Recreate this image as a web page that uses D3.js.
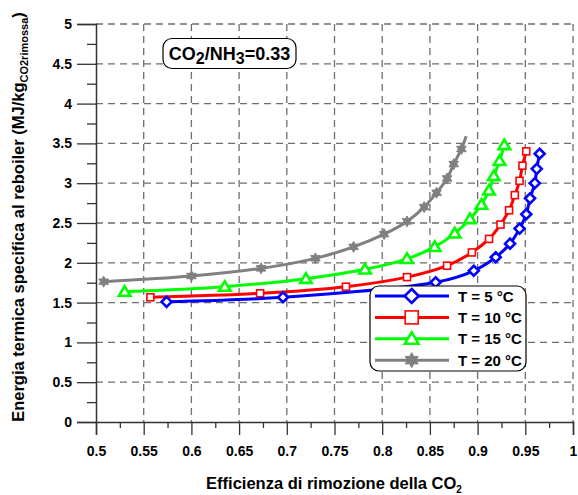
<!DOCTYPE html>
<html>
<head>
<meta charset="utf-8">
<script src="https://cdn.jsdelivr.net/npm/d3@7/dist/d3.min.js"></script>
<style>
  html, body { margin: 0; padding: 0; background: #fff; }
  text { font-family: "Liberation Sans", Arial, sans-serif; font-weight: bold; fill: #000; }
</style>
</head>
<body>
<svg id="chart" width="578" height="495"></svg>
<script>
// Removal efficiency (x) vs specific reboiler heat duty (y, MJ/kg CO2 removed)
const t5x  = [0.574, 0.696, 0.856, 0.896, 0.919, 0.934, 0.944, 0.951, 0.955, 0.960, 0.962, 0.965];
const t5y  = [1.51, 1.567, 1.755, 1.90, 2.07, 2.24, 2.43, 2.61, 2.81, 3.00, 3.18, 3.37];
const t10x = [0.557, 0.672, 0.762, 0.826, 0.868, 0.894, 0.912, 0.924, 0.933, 0.939, 0.944, 0.947, 0.951];
const t10y = [1.567, 1.617, 1.70, 1.82, 1.964, 2.13, 2.30, 2.48, 2.66, 2.85, 3.03, 3.22, 3.40];
const t15x = [0.530, 0.635, 0.720, 0.782, 0.826, 0.855, 0.876, 0.892, 0.904, 0.912, 0.917, 0.923, 0.928];
const t15y = [1.637, 1.70, 1.80, 1.918, 2.05, 2.20, 2.37, 2.55, 2.73, 2.91, 3.09, 3.28, 3.48];
const t20x = [0.508, 0.600, 0.673, 0.730, 0.770, 0.802, 0.826, 0.844, 0.857, 0.868, 0.875, 0.883, 0.888];
const t20y = [1.763, 1.834, 1.93, 2.056, 2.20, 2.36, 2.52, 2.70, 2.88, 3.06, 3.24, 3.43, 3.59];
// number of points carrying a marker (the last T=20 point is line only)
const t20markers = 12;

const seriesNames = ["T = 5 °C", "T = 10 °C", "T = 15 °C", "T = 20 °C"];
const seriesColors = ["#0000ff", "#ff0000", "#00ff00", "#808080"];

const xTicks = [0.5, 0.55, 0.6, 0.65, 0.7, 0.75, 0.8, 0.85, 0.9, 0.95, 1];
const yTicks = [0, 0.5, 1, 1.5, 2, 2.5, 3, 3.5, 4, 4.5, 5];

const series = [
  { xs: t5x,  ys: t5y,  n: t5x.length,  shape: "diamond" },
  { xs: t10x, ys: t10y, n: t10x.length, shape: "square" },
  { xs: t15x, ys: t15y, n: t15x.length, shape: "triangle" },
  { xs: t20x, ys: t20y, n: t20markers,  shape: "star" }
].map((s, i) => ({ ...s, name: seriesNames[i], color: seriesColors[i],
  pts: s.xs.map((x, j) => [x, s.ys[j]]) }));

const svg = d3.select("#chart");
const plotLeft = 96, plotRight = 573, plotTop = 24, plotBottom = 422;
const x = d3.scaleLinear().domain([0.5, 1]).range([plotLeft, plotRight]);
const y = d3.scaleLinear().domain([0, 5]).range([plotBottom, plotTop]);

// dashed grid
const grid = svg.append("g").attr("stroke", "#6e6e6e").attr("stroke-width", 1.3)
  .attr("stroke-dasharray", "7,5").attr("fill", "none");
xTicks.filter(v => v > 0.5).forEach(v => {
  grid.append("line").attr("x1", x(v)).attr("x2", x(v)).attr("y1", y(5)).attr("y2", y(0));
});
yTicks.filter(v => v > 0).forEach(v => {
  grid.append("line").attr("x1", x(0.5)).attr("x2", x(1)).attr("y1", y(v)).attr("y2", y(v));
});

// axes
const xMinor = d3.range(0, 10).map(i => 0.525 + i * 0.05);
const yMinor = d3.range(0, 10).map(i => 0.25 + i * 0.5);

svg.append("g").attr("transform", `translate(0,${plotBottom})`)
  .call(d3.axisBottom(x).tickValues(xTicks).tickFormat(d3.format("")).tickSize(13).tickPadding(11));
svg.append("g").attr("transform", `translate(0,${plotBottom})`)
  .call(d3.axisBottom(x).tickValues(xMinor).tickSize(6).tickFormat(""))
  .call(g => g.select(".domain").remove());
svg.append("g").attr("transform", `translate(${plotLeft},0)`)
  .call(d3.axisLeft(y).tickValues(yTicks).tickFormat(d3.format("")).tickSize(19).tickPadding(5));
svg.append("g").attr("transform", `translate(${plotLeft},0)`)
  .call(d3.axisLeft(y).tickValues(yMinor).tickSize(9).tickFormat(""))
  .call(g => g.select(".domain").remove());

svg.selectAll(".domain").attr("stroke", "#333").attr("stroke-width", 1.5);
svg.selectAll(".tick line").attr("stroke", "#333").attr("stroke-width", 1.3);
svg.selectAll(".tick text").style("font-size", "14px").style("font-family", "Liberation Sans, Arial, sans-serif")
  .style("font-weight", "bold").attr("fill", "#000");

// curves
const line = d3.line().x(d => x(d[0])).y(d => y(d[1])).curve(d3.curveCatmullRom.alpha(0.5));
const plot = svg.append("g");

function starPath(cx, cy, ro, ri, k) {
  const pts = [];
  for (let i = 0; i < 2 * k; i++) {
    const a = -Math.PI / 2 + i * Math.PI / k;
    const r = i % 2 ? ri : ro;
    pts.push([cx + r * Math.cos(a), cy + r * Math.sin(a)]);
  }
  return "M" + pts.map(p => p.join(",")).join("L") + "Z";
}

function marker(g, shape, color, size, cx, cy) {
  if (shape === "diamond") {
    const r = size / 2;
    g.append("path").attr("d", `M${cx},${cy - r}L${cx + r},${cy}L${cx},${cy + r}L${cx - r},${cy}Z`)
      .attr("fill", "#fff").attr("stroke", color).attr("stroke-width", 2.6);
  } else if (shape === "square") {
    g.append("rect").attr("x", cx - size / 2).attr("y", cy - size / 2).attr("width", size).attr("height", size)
      .attr("fill", "#fff").attr("stroke", color).attr("stroke-width", 1.6);
  } else if (shape === "triangle") {
    const r = size / 2;
    g.append("path").attr("d", `M${cx},${cy - r}L${cx + r * 1.05},${cy + r * 0.75}L${cx - r * 1.05},${cy + r * 0.75}Z`)
      .attr("fill", "#fff").attr("stroke", color).attr("stroke-width", 2.6);
  } else {
    g.append("path").attr("d", starPath(cx, cy, size / 2, size / 3.6, 6))
      .attr("fill", color).attr("stroke", color).attr("stroke-width", 1);
  }
}

const markerSize = { diamond: 10, square: 7, triangle: 11, star: 11 };
series.slice().reverse().forEach(s => {
  plot.append("path").datum(s.pts).attr("d", line).attr("fill", "none")
    .attr("stroke", s.color).attr("stroke-width", 3);
  s.pts.slice(0, s.n).forEach(p => marker(plot, s.shape, s.color, markerSize[s.shape], x(p[0]), y(p[1])));
});

// legend
const lg = svg.append("g");
lg.append("rect").attr("x", 370).attr("y", 286).attr("width", 156).attr("height", 85)
  .attr("rx", 9).attr("fill", "#fff").attr("stroke", "#000").attr("stroke-width", 1.2);
const legendMarker = { diamond: 14, square: 13, triangle: 13, star: 15 };
series.forEach((s, i) => {
  const cy = 296 + i * 21.4;
  lg.append("line").attr("x1", 375).attr("x2", 449).attr("y1", cy).attr("y2", cy)
    .attr("stroke", s.color).attr("stroke-width", 3);
  marker(lg, s.shape, s.color, legendMarker[s.shape], 411.7, cy);
  lg.append("text").attr("x", 458).attr("y", cy + 5.5).style("font-size", "15px").text(s.name);
});

// ratio annotation
const ann = svg.append("g");
ann.append("rect").attr("x", 163).attr("y", 38.5).attr("width", 133).attr("height", 30)
  .attr("rx", 9).attr("fill", "#fff").attr("stroke", "#000").attr("stroke-width", 1.2);
const at = ann.append("text").attr("x", 229.5).attr("y", 60).attr("text-anchor", "middle").style("font-size", "18px");
at.append("tspan").text("CO");
at.append("tspan").attr("dy", 4).style("font-size", "16px").text("2");
at.append("tspan").attr("dy", -4).text("/NH");
at.append("tspan").attr("dy", 4).style("font-size", "16px").text("3");
at.append("tspan").attr("dy", -4).text("=0.33");

// axis titles
const xt = svg.append("text").attr("x", 334).attr("y", 489).attr("text-anchor", "middle").style("font-size", "16.5px");
xt.append("tspan").text("Efficienza di rimozione della CO");
xt.append("tspan").attr("dy", 4).style("font-size", "10px").text("2");

const yt = svg.append("text").attr("transform", "translate(24,217) rotate(-90)")
  .attr("text-anchor", "middle").style("font-size", "16.5px");
yt.append("tspan").text("Energia termica specifica al reboiler (MJ/kg");
yt.append("tspan").attr("dy", 4).style("font-size", "11px").text("CO2rimossa");
yt.append("tspan").attr("dy", -4).text(")");
</script>
</body>
</html>
